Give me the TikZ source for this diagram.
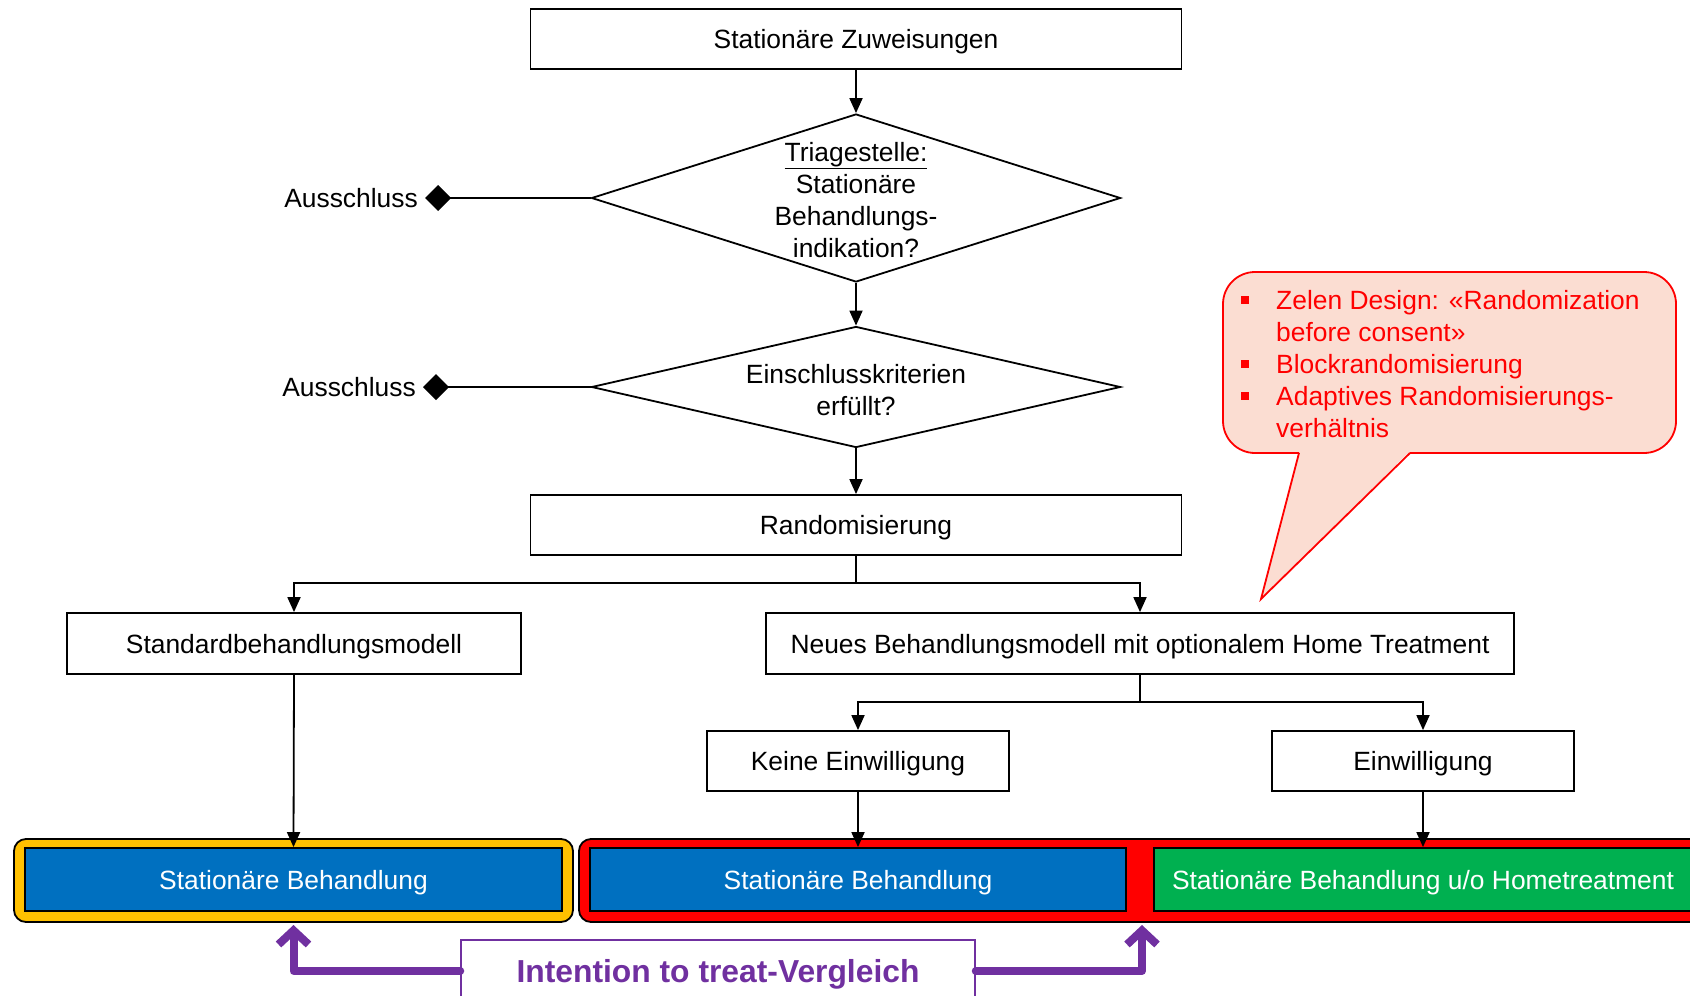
\documentclass[tikz,border=0pt]{standalone}
\usepackage{fontspec}
\setmainfont{Liberation Sans}
\usetikzlibrary{shapes.geometric,arrows.meta}
\definecolor{cblue}{HTML}{0070C0}
\definecolor{cgreen}{HTML}{00B050}
\definecolor{cyellow}{HTML}{FFC000}
\definecolor{cpurple}{HTML}{7030A0}
\definecolor{cpeach}{HTML}{FBDDD2}
\definecolor{cred}{HTML}{FF0000}
\begin{document}
\begin{tikzpicture}[x=1pt,y=-1pt,
  font=\fontsize{26.4pt}{32pt}\selectfont,
  box/.style={draw, line width=1.8pt, minimum height=60pt, inner sep=0pt, align=center, text height=19pt, text depth=0pt},
  dmd/.style={diamond, draw, line width=1.8pt, inner sep=0pt},
  lbl/.style={align=center, inner sep=0pt},
  arr/.style={line width=1.8pt, -{Triangle[length=15pt,width=13pt]}},
  excl/.style={line width=1.8pt, -{Diamond[length=26pt,width=26pt]}},
  aus/.style={anchor=east, inner xsep=7pt, inner ysep=0pt},
  frm/.style={draw, line width=1.8pt, rounded corners=12pt, minimum height=83pt, inner sep=0pt},
  inbox/.style={draw, line width=1.8pt, text=white, minimum height=63pt, inner sep=0pt, text height=19pt, text depth=0pt},
  purp/.style={draw=cpurple, line width=8pt, line cap=round, line join=round, -{Straight Barb[length=14pt,width=30pt]}},
  bul/.style={text=cred, align=left, inner sep=0pt, anchor=west}
]
\useasboundingbox (0,0) rectangle (1690,996);
\clip (0,0) rectangle (1690,996);

% top part
\node[box, minimum width=651pt] (top) at (856,39) {Stationäre Zuweisungen};
\node[dmd, minimum width=529pt, minimum height=168pt] (d1) at (856,198) {};
\node[lbl] (d1t) at (856,200) {\underline{Triagestelle:}\\Stationäre\\Behandlungs-\\indikation?};
\node[aus] (a1) at (425,198) {Ausschluss};
\node[dmd, minimum width=529pt, minimum height=121pt] (d2) at (856,387) {};
\node[lbl] (d2t) at (856,390) {Einschlusskriterien\\erfüllt?};
\node[aus] (a2) at (423,387) {Ausschluss};
\node[box, minimum width=651pt] (rand) at (856,525) {Randomisierung};

\draw[arr] (top.south) -- (d1.north);
\draw[arr] (d1.south) -- (d2.north);
\draw[arr] (d2.south) -- (rand.north);
\draw[excl] (d1.west) -- (a1.east);
\draw[excl] (d2.west) -- (a2.east);

% second level
\node[box, minimum width=454pt, minimum height=61pt] (std) at (294,643.5) {Standardbehandlungsmodell};
\node[box, minimum width=748pt, minimum height=61pt] (neu) at (1140,643.5) {Neues Behandlungsmodell mit optionalem Home Treatment};
\coordinate (r1) at (856,583);
\draw[line width=1.8pt] (rand.south) -- (r1);
\draw[arr] (r1) -| (std.north);
\draw[arr] (r1) -| (neu.north);

\node[box, minimum width=302pt] (kein) at (858,761) {Keine Einwilligung};
\node[box, minimum width=302pt] (einw) at (1423,761) {Einwilligung};
\coordinate (r2) at (1140,702);
\draw[line width=1.8pt] (neu.south) -- (r2);
\draw[arr] (r2) -| (kein.north);
\draw[arr] (r2) -| (einw.north);

% bottom frames
\node[frm, fill=cyellow, minimum width=559pt] (yfr) at (293.5,880.5) {};
\node[frm, fill=cred, minimum width=1131pt] (rfr) at (1144.5,880.5) {};
\node[inbox, fill=cblue, minimum width=537pt] (b1) at (293.5,879.5) {Stationäre Behandlung};
\node[inbox, fill=cblue, minimum width=536pt] (b2) at (858,879.5) {Stationäre Behandlung};
\node[inbox, fill=cgreen, minimum width=538pt] (g1) at (1423,879.5) {Stationäre Behandlung u/o Hometreatment};

\draw[arr] (std.south) -- (b1.north);
\draw[arr] (kein.south) -- (b2.north);
\draw[arr] (einw.south) -- (g1.north);

% intention to treat
\node[draw=cpurple, line width=1.5pt, fill=white, minimum width=514pt, minimum height=62pt, inner sep=0pt,
      text height=23pt, text depth=0pt,
      text=cpurple, font=\fontsize{31.8pt}{36pt}\selectfont\bfseries] (itt) at (718,971) {Intention to treat-Vergleich};
\coordinate (pl) at (293.5,925);
\coordinate (pr) at (1142,925);
\draw[purp] (itt.west) -| (pl);
\draw[purp] (itt.east) -| (pr);

% callout
\fill[cpeach, rounded corners=32pt] (1223,272) rectangle (1676,453);
\fill[cpeach] (1299,451) -- (1261,599) -- (1410,451) -- cycle;
\draw[cred, line width=1.8pt, rounded corners=32pt] (1410,453) -- (1676,453) -- (1676,272) -- (1223,272) -- (1223,453) -- (1299,453);
\draw[cred, line width=1.8pt, line join=miter] (1299,453) -- (1261,599) -- (1410,453);
\node[bul] (cal) at (1241,364) {%
  \makebox[35pt][l]{\rule[5pt]{8pt}{8pt}}Zelen Design: «Randomization\\
  \hspace*{35pt}before consent»\\
  \makebox[35pt][l]{\rule[5pt]{8pt}{8pt}}Blockrandomisierung\\
  \makebox[35pt][l]{\rule[5pt]{8pt}{8pt}}Adaptives Randomisierungs-\\
  \hspace*{35pt}verhältnis};
\end{tikzpicture}
\end{document}
